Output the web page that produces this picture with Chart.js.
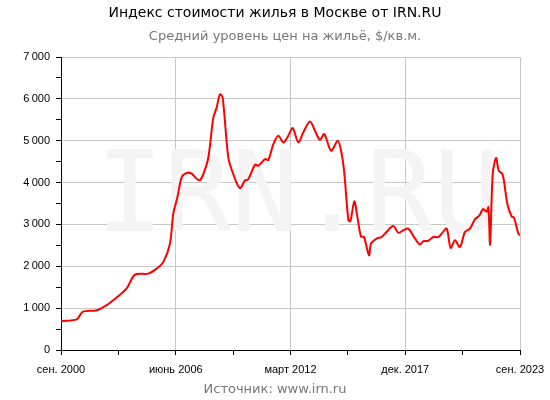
<!DOCTYPE html>
<html><head><meta charset="utf-8">
<script src="https://cdn.jsdelivr.net/npm/chart.js@4/dist/chart.umd.min.js"></script>
<style>html,body{margin:0;padding:0;background:#fff}#wrap{width:550px;height:400px}</style>
</head><body>
<div id="wrap"><canvas id="c"></canvas></div>
<script>
// months counted from sep 2000
const months = [0, 9.4, 13, 21.5, 27.5, 34, 39.5, 44.5, 52.5, 57.5, 61.5, 65.5, 67.5, 70, 72.6, 75.6, 78.6, 81.6, 83.6, 85.6, 88.6, 91.6, 93.6, 95.6, 97.2, 100.6, 103.6, 107.6, 110.6, 112.6, 116.7, 118.7, 122.7, 124.7, 127.7, 130.7, 133.7, 136.7, 139.3, 142.7, 145.7, 149.7, 152.7, 155.7, 158.3, 162.4, 166.4, 168.4, 170.2, 172.8, 174, 176.4, 178.2, 180.4, 182.2, 185.2, 186.4, 189.8, 192.8, 194.8, 199.8, 202.8, 205.8, 208.8, 212.9, 215.9, 217.9, 220.9, 223.9, 226.9, 228.9, 231.9, 234.3, 236.9, 239.9, 242.9, 245.9, 248.9, 251.5, 253.9, 255.9, 257, 258, 259.6, 261.6, 263.2, 265.6, 268.4, 271, 272.4, 275, 276];
const prices = [690, 730, 910, 950, 1070, 1270, 1470, 1800, 1825, 1945, 2100, 2540, 3250, 3650, 4130, 4230, 4215, 4090, 4060, 4200, 4600, 5550, 5790, 6110, 6030, 4600, 4200, 3865, 4050, 4080, 4430, 4400, 4560, 4540, 4920, 5120, 4960, 5120, 5300, 4960, 5200, 5460, 5240, 5020, 5160, 4760, 5000, 4760, 4290, 3100, 3080, 3550, 3180, 2710, 2700, 2260, 2540, 2660, 2700, 2780, 2960, 2800, 2860, 2900, 2660, 2520, 2600, 2610, 2700, 2700, 2780, 2900, 2440, 2620, 2460, 2820, 2900, 3120, 3210, 3370, 3300, 3410, 2520, 4200, 4590, 4290, 4190, 3490, 3190, 3160, 2780, 2740];
const xLabels = {0: 'сен. 2000', 69: 'июнь 2006', 138: 'март 2012', 207: 'дек. 2017', 276: 'сен. 2023'};
const yTicks = [0, 1000, 2000, 3000, 4000, 5000, 6000, 7000];

const textPlugin = {
  id: 'texts',
  beforeDatasetsDraw(chart) {
    const c = chart.ctx, a = chart.chartArea;
    c.save();
    c.fillStyle = '#f4f4f4';
    c.font = '112px "DejaVu Sans Mono"';
    c.textAlign = 'center'; c.textBaseline = 'middle';
    c.fillText('IRN.RU', (a.left + a.right) / 2 + 8, 202);
    c.restore();
  },
  afterDraw(chart) {
    const c = chart.ctx;
    c.save();
    c.textAlign = 'center'; c.textBaseline = 'middle';
    c.fillStyle = '#000';
    c.font = '14px "DejaVu Sans"';
    c.fillText('Индекс стоимости жилья в Москве от IRN.RU', 275, 13);
    c.fillStyle = '#777';
    c.font = '13px "DejaVu Sans"';
    c.fillText('Средний уровень цен на жильё, $/кв.м.', 285, 37);
    c.fillText('Источник: www.irn.ru', 275, 390);
    c.restore();
  }
};

new Chart(document.getElementById('c'), {
  type: 'line',
  data: {
    datasets: [{
      data: months.map((m, i) => ({x: m, y: prices[i]})),
      borderColor: '#ff0000',
      borderWidth: 2,
      pointRadius: 0,
      tension: 0.3,
      fill: false
    }]
  },
  options: {
    responsive: true,
    maintainAspectRatio: false,
    animation: false,
    layout: {padding: {top: 57, right: 30, left: 0, bottom: 0}},
    plugins: {legend: {display: false}, tooltip: {enabled: false}},
    scales: {
      x: {
        type: 'linear', min: 0, max: 276,
        afterBuildTicks: s => { s.ticks = [0, 34.5, 69, 103.5, 138, 172.5, 207, 241.5, 276].map(v => ({value: v})); },
        afterFit: s => { s.height = 50; s.paddingLeft = 0; s.paddingRight = 0; },
        border: {color: '#000', width: 1},
        grid: {
          color: ctx => (ctx.tick && xLabels[ctx.tick.value] !== undefined) ? '#c8c8c8' : 'rgba(0,0,0,0)',
          tickColor: '#000', tickLength: 5, drawOnChartArea: true
        },
        ticks: {
          autoSkip: false, maxRotation: 0, padding: 8,
          color: '#000', font: {family: 'Liberation Sans', size: 11},
          callback: v => xLabels[v] || ''
        }
      },
      y: {
        min: 0, max: 7000,
        afterBuildTicks: s => { s.ticks = []; for (let v = 0; v <= 7000; v += 500) s.ticks.push({value: v}); },
        afterFit: s => { s.width = 61; },
        border: {color: '#000', width: 1},
        grid: {
          color: ctx => (ctx.tick && yTicks.includes(ctx.tick.value)) ? '#c8c8c8' : 'rgba(0,0,0,0)',
          tickColor: '#000', tickLength: 5
        },
        ticks: {
          color: '#000', padding: 6, font: {family: 'Liberation Sans', size: 11},
          callback: v => yTicks.includes(v) ? (v >= 1000 ? (v / 1000) + '\u2009000' : '' + v) : ''
        }
      }
    }
  },
  plugins: [textPlugin]
});
</script>
</body></html>
